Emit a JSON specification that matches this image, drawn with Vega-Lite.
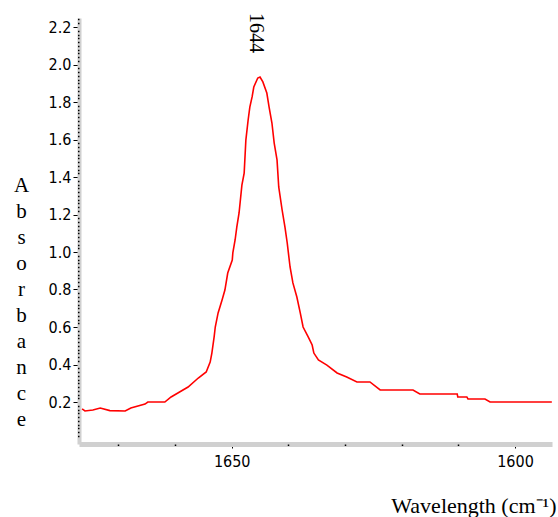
{
  "$schema": "https://vega.github.io/schema/vega-lite/v6.json",
  "width": 473,
  "height": 426,
  "autosize": "none",
  "padding": {"left": 79, "top": 18, "right": 6, "bottom": 73},
  "background": "white",
  "config": {"view": {"stroke": null}},
  "datasets": {
    "spectrum": [
      {"w": 1676.4, "a": 0.163}, {"w": 1675.9, "a": 0.152}, {"w": 1674.5, "a": 0.157}, {"w": 1673.2, "a": 0.168},
      {"w": 1671.5, "a": 0.154}, {"w": 1668.8, "a": 0.152}, {"w": 1667.8, "a": 0.168}, {"w": 1665.3, "a": 0.189},
      {"w": 1664.8, "a": 0.2}, {"w": 1661.8, "a": 0.2}, {"w": 1660.7, "a": 0.227}, {"w": 1659.5, "a": 0.248},
      {"w": 1657.7, "a": 0.28}, {"w": 1655.9, "a": 0.328}, {"w": 1654.5, "a": 0.36}, {"w": 1653.8, "a": 0.413},
      {"w": 1653.5, "a": 0.461}, {"w": 1653.1, "a": 0.547}, {"w": 1652.9, "a": 0.6}, {"w": 1652.4, "a": 0.675},
      {"w": 1651.7, "a": 0.744}, {"w": 1651.2, "a": 0.797}, {"w": 1650.7, "a": 0.888}, {"w": 1649.9, "a": 0.957},
      {"w": 1649.8, "a": 0.995}, {"w": 1649.4, "a": 1.064}, {"w": 1649.1, "a": 1.133}, {"w": 1648.7, "a": 1.208},
      {"w": 1648.2, "a": 1.357}, {"w": 1647.8, "a": 1.421}, {"w": 1647.5, "a": 1.597}, {"w": 1647.1, "a": 1.704},
      {"w": 1646.8, "a": 1.773}, {"w": 1646.4, "a": 1.827}, {"w": 1646.1, "a": 1.88}, {"w": 1645.4, "a": 1.928},
      {"w": 1645.0, "a": 1.933}, {"w": 1644.5, "a": 1.907}, {"w": 1643.8, "a": 1.848}, {"w": 1643.4, "a": 1.773},
      {"w": 1642.9, "a": 1.688}, {"w": 1642.5, "a": 1.581}, {"w": 1642.0, "a": 1.491}, {"w": 1641.7, "a": 1.347},
      {"w": 1641.1, "a": 1.224}, {"w": 1640.6, "a": 1.133}, {"w": 1640.2, "a": 1.048}, {"w": 1639.7, "a": 0.92},
      {"w": 1639.2, "a": 0.835}, {"w": 1638.5, "a": 0.76}, {"w": 1637.9, "a": 0.675}, {"w": 1637.4, "a": 0.6},
      {"w": 1636.5, "a": 0.547}, {"w": 1635.8, "a": 0.504}, {"w": 1635.5, "a": 0.461}, {"w": 1634.7, "a": 0.424},
      {"w": 1633.2, "a": 0.397}, {"w": 1631.4, "a": 0.355}, {"w": 1629.7, "a": 0.333}, {"w": 1627.9, "a": 0.307},
      {"w": 1625.6, "a": 0.307}, {"w": 1623.8, "a": 0.264}, {"w": 1618.0, "a": 0.264}, {"w": 1616.8, "a": 0.243},
      {"w": 1610.2, "a": 0.243}, {"w": 1610.1, "a": 0.227}, {"w": 1608.5, "a": 0.227}, {"w": 1608.3, "a": 0.216},
      {"w": 1605.3, "a": 0.216}, {"w": 1604.4, "a": 0.2}, {"w": 1593.5, "a": 0.2}
    ],
    "peak": [{"w": 1645.7, "a": 2.168, "label": "1644"}]
  },
  "resolve": {"axis": {"x": "independent", "y": "independent"}},
  "layer": [
    {
      "data": {"name": "spectrum"},
      "mark": {"type": "line", "color": "#ff0000", "strokeWidth": 1.6, "clip": true},
      "encoding": {
        "x": {
          "field": "w", "type": "quantitative",
          "scale": {"domain": [1593.47, 1676.95], "reverse": true, "nice": false, "zero": false},
          "axis": {
            "orient": "bottom",
            "values": [1650, 1600],
            "labelExpr": "format(datum.value, 'd')",
            "grid": false,
            "domainColor": "#d0d0d0", "domainWidth": 5,
            "tickColor": "black", "tickSize": 4, "tickWidth": 1,
            "labelFont": "Liberation Sans Narrow, DejaVu Sans Condensed, sans-serif",
            "labelFontSize": 16, "labelColor": "black", "labelPadding": 5,
            "labelOverlap": false,
            "title": "Wavelength (cm⁻¹)",
            "titleFont": "Liberation Serif", "titleFontSize": 22, "titleFontWeight": "normal", "titleColor": "black",
            "titleAnchor": "end", "titleAlign": "right", "titleBaseline": "alphabetic",
            "titleX": 477, "titleY": 68
          }
        },
        "y": {
          "field": "a", "type": "quantitative",
          "scale": {"domain": [-0.024, 2.248], "nice": false, "zero": false},
          "axis": {
            "orient": "left",
            "values": [0.2, 0.4, 0.6, 0.8, 1.0, 1.2, 1.4, 1.6, 1.8, 2.0, 2.2],
            "labelExpr": "format(datum.value, '.1f')",
            "grid": false,
            "domainColor": "#d0d0d0", "domainWidth": 4,
            "tickColor": "black", "tickSize": 6, "tickWidth": 1,
            "labelFont": "Liberation Sans Narrow, DejaVu Sans Condensed, sans-serif",
            "labelFontSize": 16, "labelColor": "black", "labelPadding": 2,
            "labelOverlap": false,
            "title": ["A", "b", "s", "o", "r", "b", "a", "n", "c", "e"],
            "titleFont": "Liberation Serif", "titleFontSize": 21, "titleFontWeight": "normal", "titleColor": "black",
            "titleAngle": 0, "titleAlign": "center", "titleBaseline": "middle", "titleLineHeight": 26,
            "titleX": -58, "titleY": 167
          }
        }
      }
    },
    {
      "data": {"name": "peak"},
      "mark": {"type": "text", "angle": 90, "align": "center", "baseline": "middle", "font": "Liberation Serif", "fontSize": 20, "color": "black"},
      "encoding": {
        "x": {
          "field": "w", "type": "quantitative",
          "axis": {
            "orient": "bottom", "zindex": 2,
            "values": [1670, 1660, 1640, 1630, 1620, 1610],
            "domain": false, "labels": false, "grid": false, "title": null,
            "tickColor": "black", "tickSize": 1.5, "tickWidth": 1.5
          }
        },
        "y": {
          "field": "a", "type": "quantitative",
          "axis": {
            "orient": "left", "zindex": 2,
            "values": [0.02,0.04,0.06,0.08,0.1,0.12,0.14,0.16,0.18,0.22,0.24,0.26,0.28,0.3,0.32,0.34,0.36,0.38,0.42,0.44,0.46,0.48,0.5,0.52,0.54,0.56,0.58,0.62,0.64,0.66,0.68,0.7,0.72,0.74,0.76,0.78,0.82,0.84,0.86,0.88,0.9,0.92,0.94,0.96,0.98,1.02,1.04,1.06,1.08,1.1,1.12,1.14,1.16,1.18,1.22,1.24,1.26,1.28,1.3,1.32,1.34,1.36,1.38,1.42,1.44,1.46,1.48,1.5,1.52,1.54,1.56,1.58,1.62,1.64,1.66,1.68,1.7,1.72,1.74,1.76,1.78,1.82,1.84,1.86,1.88,1.9,1.92,1.94,1.96,1.98,2.02,2.04,2.06,2.08,2.1,2.12,2.14,2.16,2.18,2.22,2.24],
            "domain": false, "labels": false, "grid": false, "title": null,
            "tickColor": "black", "tickSize": 1.5, "tickWidth": 1.5
          }
        },
        "text": {"field": "label"}
      }
    }
  ]
}
